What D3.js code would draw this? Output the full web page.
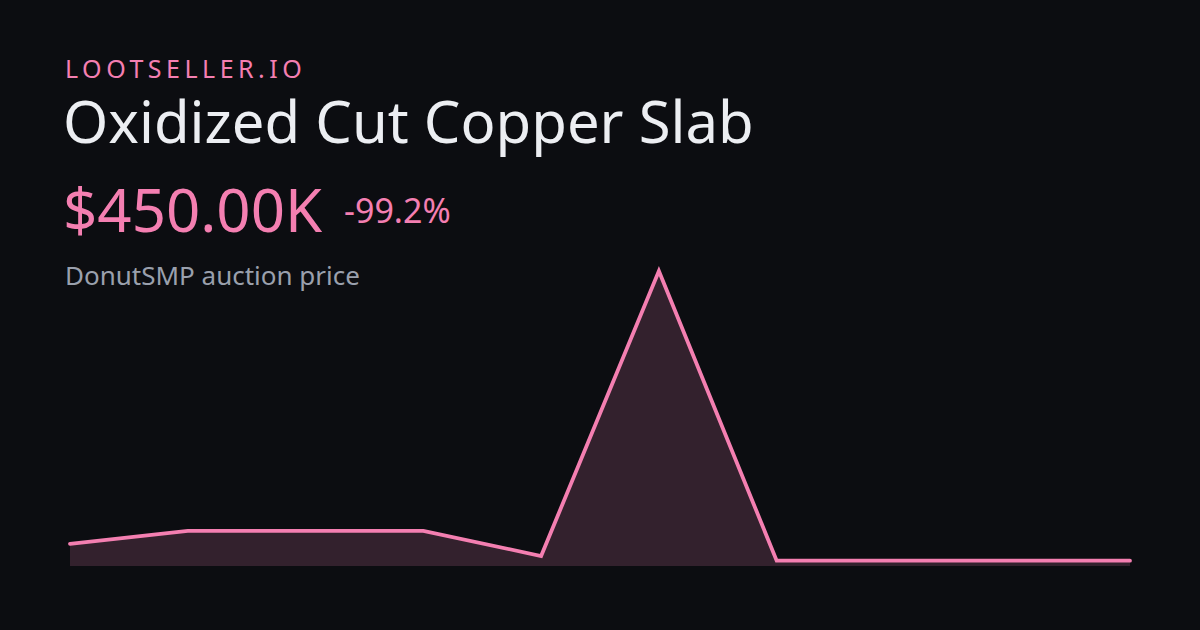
<!DOCTYPE html>
<html><head><meta charset="utf-8">
<script src="https://cdn.jsdelivr.net/npm/d3@7/dist/d3.min.js"></script>
<style>html,body{margin:0;padding:0;background:#0c0d11;}svg{display:block;}</style>
</head><body>
<svg id="c" width="1200" height="630"></svg>
<script>
const brand = "LOOTSELLER.IO";
const itemName = "Oxidized Cut Copper Slab";
const priceLabel = "$450.00K";
const changeLabel = "-99.2%";
const subtitle = "DonutSMP auction price";
const pointIndex = [0,1,2,3,4,5,6,7,8,9];
const priceMillions = [3.7, 6.2, 6.2, 6.2, 1.35, 56.25, 0.45, 0.45, 0.45, 0.45];

const svg = d3.select("#c");
const W = 1200, H = 630;
svg.append("rect").attr("width",W).attr("height",H).attr("fill","#0c0d11");
const pink = "#f47fb1";
const font = "'Noto Sans', 'Open Sans', sans-serif";

svg.append("text").attr("x",65).attr("y",78).attr("fill",pink)
  .attr("font-family",font).attr("font-size",25).attr("letter-spacing",4.5).text(brand);
svg.append("text").attr("x",63).attr("y",143).attr("fill","#eceef2")
  .attr("font-family",font).attr("font-size",58).text(itemName);
svg.append("text").attr("x",63).attr("y",232).attr("fill",pink)
  .attr("font-family",font).attr("font-size",60).text(priceLabel);
svg.append("text").attr("x",344).attr("y",223).attr("fill",pink)
  .attr("font-family",font).attr("font-size",34).text(changeLabel);
svg.append("text").attr("x",65).attr("y",285).attr("fill","#9aa0ad")
  .attr("font-family",font).attr("font-size",26).text(subtitle);

const plotBottom = 566;
const x = d3.scaleLinear().domain([0, pointIndex.length-1]).range([70, 1130]);
const y = d3.scaleLinear().domain([0, d3.max(priceMillions)]).range([563, 271]);
const data = pointIndex.map((d,i)=>({i:d, v:priceMillions[i]}));

svg.append("path").datum(data)
  .attr("d", d3.area().x(d=>x(d.i)).y0(plotBottom).y1(d=>y(d.v)))
  .attr("fill", "#33212d");
svg.append("path").datum(data)
  .attr("d", d3.line().x(d=>x(d.i)).y(d=>y(d.v)))
  .attr("fill","none").attr("stroke",pink).attr("stroke-width",3.8)
  .attr("stroke-linejoin","miter").attr("stroke-linecap","round");
</script>
</body></html>
